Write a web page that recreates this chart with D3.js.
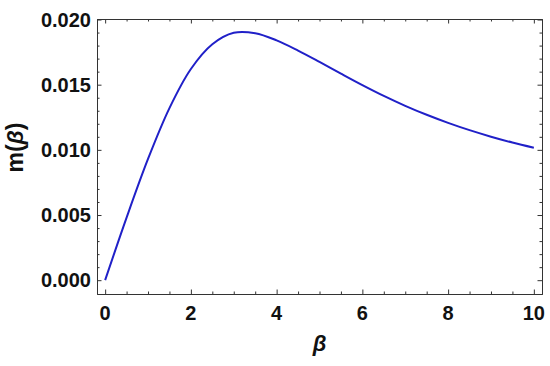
<!DOCTYPE html>
<html>
<head>
<meta charset="utf-8">
<script src="https://cdn.jsdelivr.net/npm/d3@7"></script>
<style>
  body { margin: 0; background: #fff; }
  svg { display: block; }
  .lbl { font-family: "Liberation Sans", Arial, sans-serif; font-weight: bold; font-size: 20px; fill: #111; }
</style>
</head>
<body>
<svg width="550" height="366"></svg>
<script>
// curve
var beta = [0, 0.5, 1, 1.5, 2, 2.5, 3, 3.5, 4, 4.5, 5, 5.5, 6, 6.5, 7, 7.5, 8, 8.5, 9, 9.5, 10];
var mval = [0, 0.0048, 0.0093, 0.0132, 0.0162, 0.0181, 0.01898, 0.01895, 0.0184, 0.01762, 0.01675, 0.01585, 0.01497, 0.01414, 0.01338, 0.01269, 0.01207, 0.01151, 0.01101, 0.01056, 0.01016];
var xTicks = [0, 2, 4, 6, 8, 10];
var yTicks = [0, 0.005, 0.010, 0.015, 0.020];

var data = beta.map(function(b, i) { return { b: b, m: mval[i] }; });

var svg = d3.select("svg"),
  margin = { top: 19, right: 8, bottom: 72, left: 97 },
  width = +svg.attr("width") - margin.left - margin.right,
  height = +svg.attr("height") - margin.top - margin.bottom;

var x = d3.scaleLinear().domain([-0.19, 10.19]).range([0, width]);
var y = d3.scaleLinear().domain([-0.00106, 0.02004]).range([height, 0]);

var g = svg.append("g")
  .attr("transform", "translate(" + margin.left + "," + margin.top + ")");

var xMinor = d3.range(0, 10.01, 0.5).filter(function(v) { return v % 2 !== 0; });
var yMinor = d3.range(0, 0.02001, 0.001).filter(function(v) { return Math.round(v * 1000) % 5 !== 0; });

// frame with inward ticks on all sides
function addAxis(axis, tr) {
  var a = g.append("g").attr("transform", tr).call(axis);
  a.selectAll("path, line").attr("stroke", "#333").attr("stroke-width", 1);
  a.selectAll("text").remove();
  return a;
}
addAxis(d3.axisBottom(x).tickValues(xTicks).tickSizeInner(-4.5).tickSizeOuter(0), "translate(0," + height + ")");
addAxis(d3.axisBottom(x).tickValues(xMinor).tickSizeInner(-2.5).tickSizeOuter(0), "translate(0," + height + ")");
addAxis(d3.axisTop(x).tickValues(xTicks).tickSizeInner(-4.5).tickSizeOuter(0), "translate(0,0)");
addAxis(d3.axisTop(x).tickValues(xMinor).tickSizeInner(-2.5).tickSizeOuter(0), "translate(0,0)");
addAxis(d3.axisLeft(y).tickValues(yTicks).tickSizeInner(-4.5).tickSizeOuter(0), "translate(0,0)");
addAxis(d3.axisLeft(y).tickValues(yMinor).tickSizeInner(-2.5).tickSizeOuter(0), "translate(0,0)");
addAxis(d3.axisRight(y).tickValues(yTicks).tickSizeInner(-4.5).tickSizeOuter(0), "translate(" + width + ",0)");
addAxis(d3.axisRight(y).tickValues(yMinor).tickSizeInner(-2.5).tickSizeOuter(0), "translate(" + width + ",0)");

// tick labels
g.selectAll(".xl").data(xTicks).enter().append("text")
  .attr("class", "lbl")
  .attr("x", function(d) { return x(d); })
  .attr("y", height + 26)
  .attr("text-anchor", "middle")
  .text(function(d) { return d; });

g.selectAll(".yl").data(yTicks).enter().append("text")
  .attr("class", "lbl")
  .attr("x", -6)
  .attr("y", function(d) { return y(d) + 7; })
  .attr("text-anchor", "end")
  .text(d3.format(".3f"));

// the curve
var line = d3.line()
  .x(function(d) { return x(d.b); })
  .y(function(d) { return y(d.m); })
  .curve(d3.curveCatmullRom);

g.append("path")
  .datum(data)
  .attr("fill", "none")
  .attr("stroke", "#2020c8")
  .attr("stroke-width", 2)
  .attr("d", line);

// axis titles
g.append("text")
  .attr("class", "lbl")
  .attr("x", width / 2)
  .attr("y", height + 57)
  .attr("text-anchor", "middle")
  .style("font-style", "italic")
  .style("font-size", "22px")
  .text("β");

var yt = g.append("text")
  .attr("class", "lbl")
  .style("font-size", "23px")
  .attr("transform", "translate(" + (-74) + "," + (height / 2 - 9) + ") rotate(-90)")
  .attr("text-anchor", "middle");
yt.append("tspan").text("m(");
yt.append("tspan").style("font-style", "italic").text("β");
yt.append("tspan").text(")");
</script>
</body>
</html>
